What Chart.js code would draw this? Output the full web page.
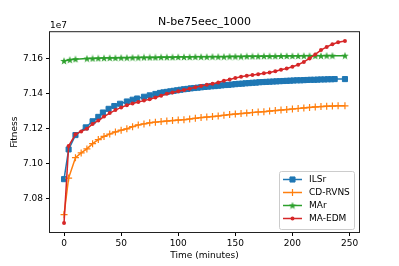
<!DOCTYPE html>
<html>
<head>
<meta charset="utf-8">
<script src="https://cdn.jsdelivr.net/npm/chart.js@4.4.1/dist/chart.umd.min.js"></script>
<style>
  body { margin: 0; background: #fff; }
  #wrap { width: 399px; height: 266px; }
</style>
</head>
<body>
<div id="wrap"><canvas id="fitnessChart" width="399" height="266"></canvas></div>
<script>
// values (fitness in units of 1e7, time in minutes)
const xTicks = [0, 50, 100, 150, 200, 250];
const yTicks = [7.08, 7.10, 7.12, 7.14, 7.16];

const ilsrTime = [0, 4, 10, 19, 25, 30, 34, 39, 44, 49, 55, 60, 64, 70, 75, 80,
  84, 87, 90, 93, 96, 99, 102, 105, 108, 111, 114, 117, 120, 123, 126, 129, 132, 135, 138, 141,
  144, 147, 150, 153, 156, 159, 162, 165, 168, 171, 174, 177, 180, 183, 186, 189, 192, 195, 198,
  201, 204, 207, 210, 213, 216, 219, 222, 225, 228, 231, 234, 237, 246];
const ilsrFit = [7.0912, 7.1082, 7.1164, 7.1208, 7.1243, 7.1268, 7.1293, 7.1314, 7.1330, 7.1343,
  7.1356, 7.1366, 7.1373, 7.1383, 7.1391, 7.1399,
  7.1405, 7.1408, 7.1411, 7.1414, 7.1417, 7.1420, 7.1423, 7.1426, 7.1428, 7.1431, 7.1433, 7.1435,
  7.1437, 7.1439, 7.1441, 7.1443, 7.1444, 7.1446, 7.1448, 7.1450, 7.1451, 7.1453, 7.1455, 7.1457,
  7.1458, 7.1460, 7.1461, 7.1463, 7.1464, 7.1466, 7.1467, 7.1468, 7.1469, 7.1470, 7.1471, 7.1472,
  7.1473, 7.1474, 7.1475, 7.1476, 7.1477, 7.1477, 7.1478, 7.1479, 7.1480, 7.1480, 7.1481, 7.1482,
  7.1482, 7.1483, 7.1483, 7.1484, 7.1484];

const rvnsTime = [0, 4, 10, 15, 20, 25, 30, 35, 40, 45, 50, 55, 60, 65, 70, 75, 80, 85, 90, 95,
  100, 105, 110, 115, 120, 125, 130, 135, 140, 145, 150, 155, 160, 165, 170, 175, 180, 185, 190,
  195, 200, 205, 210, 215, 220, 225, 230, 235, 240, 246];
const rvnsFit = [7.0709, 7.0918, 7.1035, 7.1062, 7.1085, 7.1115, 7.1138, 7.1156, 7.1170, 7.1182,
  7.1192, 7.1200, 7.1212, 7.1222, 7.1228, 7.1234, 7.1238, 7.1241, 7.1244, 7.1247, 7.1250, 7.1252,
  7.1256, 7.1260, 7.1264, 7.1267, 7.1270, 7.1273, 7.1277, 7.1281, 7.1284, 7.1287, 7.1290, 7.1293,
  7.1296, 7.1298, 7.1301, 7.1304, 7.1307, 7.1310, 7.1313, 7.1316, 7.1319, 7.1322, 7.1325, 7.1327,
  7.1329, 7.1330, 7.1331, 7.1331];

const marTime = [0, 5, 10, 20, 25, 30, 35, 40, 45, 50, 55, 60, 65, 70, 75, 80, 85, 90, 95, 100,
  105, 110, 115, 120, 125, 130, 135, 140, 145, 150, 155, 160, 165, 170, 175, 180, 185, 190, 195,
  200, 205, 210, 215, 220, 225, 230, 235, 246];
const marFit = [7.1588, 7.1594, 7.1598, 7.1601, 7.1602, 7.1603, 7.1604, 7.1605, 7.1605, 7.1606,
  7.1606, 7.1607, 7.1607, 7.1608, 7.1608, 7.1608, 7.1609, 7.1609, 7.1609, 7.1610, 7.1610, 7.1610,
  7.1611, 7.1611, 7.1611, 7.1612, 7.1612, 7.1612, 7.1613, 7.1613, 7.1613, 7.1614, 7.1614, 7.1614,
  7.1615, 7.1615, 7.1615, 7.1616, 7.1616, 7.1616, 7.1616, 7.1617, 7.1617, 7.1617, 7.1617, 7.1618,
  7.1618, 7.1618];

const edmTime = [0, 4, 10, 15, 20, 25, 30, 35, 40, 45, 50, 55, 60, 65, 70, 75, 80, 85, 90, 95,
  100, 105, 110, 115, 120, 125, 130, 135, 140, 145, 150, 155, 160, 165, 170, 175, 180, 185, 190,
  195, 200, 205, 210, 215, 220, 225, 230, 235, 240, 246];
const edmFit = [7.0662, 7.1101, 7.1168, 7.1185, 7.1200, 7.1228, 7.1247, 7.1270, 7.1290, 7.1307,
  7.1322, 7.1335, 7.1345, 7.1353, 7.1361, 7.1369, 7.1379, 7.1389, 7.1400, 7.1408, 7.1415, 7.1422,
  7.1429, 7.1437, 7.1444, 7.1451, 7.1457, 7.1465, 7.1474, 7.1482, 7.1490, 7.1497, 7.1503, 7.1508,
  7.1512, 7.1518, 7.1522, 7.1529, 7.1537, 7.1545, 7.1555, 7.1566, 7.1582, 7.1602, 7.1625, 7.1650,
  7.1668, 7.1683, 7.1694, 7.1702];

const FONT = "'DejaVu Sans', sans-serif";

// filled star marker like matplotlib '*'
function makeStar(color) {
  const c = document.createElement('canvas');
  c.width = 8; c.height = 8;
  const g = c.getContext('2d');
  g.fillStyle = color;
  g.beginPath();
  for (let i = 0; i < 10; i++) {
    const r = i % 2 === 0 ? 4 : 1.6;
    const a = -Math.PI / 2 + i * Math.PI / 5;
    const px = 4 + r * Math.cos(a), py = 4.3 + r * Math.sin(a);
    if (i === 0) g.moveTo(px, py); else g.lineTo(px, py);
  }
  g.closePath();
  g.fill();
  return c;
}

const toPoints = (xs, ys) => xs.map((t, i) => ({ x: t, y: ys[i] * 1e7 }));

// frame on all four sides + the "1e7" offset text
const framePlugin = {
  id: 'frame',
  afterDatasetsDraw(chart) {
    const { ctx, chartArea: a } = chart;
    ctx.save();
    ctx.strokeStyle = '#222';
    ctx.lineWidth = 1;
    ctx.strokeRect(a.left - 0.5, a.top - 0.5, a.right - a.left + 1, a.bottom - a.top + 1);
    ctx.fillStyle = '#000';
    ctx.font = '9px ' + FONT;
    ctx.textAlign = 'left';
    ctx.textBaseline = 'bottom';
    ctx.fillText('1e7', a.left, a.top - 2);
    ctx.restore();
  }
};

// legend box in the lower right corner, like matplotlib's
const legendPlugin = {
  id: 'boxLegend',
  afterDraw(chart) {
    const { ctx } = chart;
    const bx = 279, by = 171, bw = 75, bh = 58;
    ctx.save();
    ctx.fillStyle = 'rgba(255,255,255,0.8)';
    ctx.strokeStyle = '#ccc';
    ctx.lineWidth = 1;
    ctx.beginPath();
    ctx.roundRect(bx + 0.5, by + 0.5, bw, bh, 2);
    ctx.fill();
    ctx.stroke();
    chart.data.datasets.forEach((ds, i) => {
      const y = by + 8.5 + i * 13;
      ctx.strokeStyle = ds.borderColor;
      ctx.lineWidth = ds.borderWidth;
      ctx.beginPath();
      ctx.moveTo(bx + 4, y);
      ctx.lineTo(bx + 23, y);
      ctx.stroke();
      const mx = bx + 13.5;
      if (ds.pointStyle instanceof HTMLCanvasElement) {
        ctx.drawImage(ds.pointStyle, mx - ds.pointStyle.width / 2, y - ds.pointStyle.height / 2);
      } else {
        ctx.fillStyle = ds.pointBackgroundColor;
        ctx.strokeStyle = ds.pointBorderColor;
        ctx.lineWidth = ds.pointBorderWidth;
        Chart.helpers.drawPoint(ctx, { pointStyle: ds.pointStyle, radius: ds.pointRadius, rotation: 0, borderWidth: ds.pointBorderWidth }, mx, y);
      }
      ctx.fillStyle = '#000';
      ctx.font = '9px ' + FONT;
      ctx.textAlign = 'left';
      ctx.textBaseline = 'middle';
      ctx.fillText(ds.label, bx + 30, y + 0.5);
    });
    ctx.restore();
  }
};

new Chart(document.getElementById('fitnessChart'), {
  type: 'line',
  data: {
    datasets: [
      {
        label: 'ILSr',
        data: toPoints(ilsrTime, ilsrFit),
        borderColor: '#1f77b4',
        borderWidth: 1.5,
        pointStyle: 'rect',
        pointRadius: 3.6,
        pointBackgroundColor: '#1f77b4',
        pointBorderColor: '#1f77b4',
        pointBorderWidth: 1,
        order: 4,
      },
      {
        label: 'CD-RVNS',
        data: toPoints(rvnsTime, rvnsFit),
        borderColor: '#ff7f0e',
        borderWidth: 1.5,
        pointStyle: 'cross',
        pointRadius: 3.5,
        pointBackgroundColor: '#ff7f0e',
        pointBorderColor: '#ff7f0e',
        pointBorderWidth: 1.2,
        order: 3,
      },
      {
        label: 'MAr',
        data: toPoints(marTime, marFit),
        borderColor: '#2ca02c',
        borderWidth: 1.5,
        pointStyle: makeStar('#2ca02c'),
        pointRadius: 4,
        pointBackgroundColor: '#2ca02c',
        pointBorderColor: '#2ca02c',
        pointBorderWidth: 0,
        order: 2,
      },
      {
        label: 'MA-EDM',
        data: toPoints(edmTime, edmFit),
        borderColor: '#d62728',
        borderWidth: 1.5,
        pointStyle: 'circle',
        pointRadius: 2,
        pointBackgroundColor: '#d62728',
        pointBorderColor: '#d62728',
        pointBorderWidth: 0,
        order: 1,
      },
    ],
  },
  options: {
    responsive: false,
    animation: false,
    devicePixelRatio: 1,
    layout: { padding: { left: 0, right: 40, top: 0, bottom: 0 } },
    elements: { line: { tension: 0 } },
    plugins: {
      legend: { display: false },
      tooltip: { enabled: false },
      title: {
        display: true,
        fullSize: false,
        text: 'N-be75eec_1000',
        color: '#000',
        font: { family: FONT, size: 11, weight: 'normal' },
        padding: { top: 16, bottom: 3 },
      },
    },
    scales: {
      x: {
        type: 'linear',
        min: -12.3,
        max: 258.3,
        afterFit(scale) { scale.height = 34; },
        afterBuildTicks(scale) { scale.ticks = xTicks.map(v => ({ value: v })); },
        grid: { drawOnChartArea: false, drawTicks: true, tickLength: 4, color: '#000' },
        border: { display: false },
        ticks: { color: '#000', padding: 2, maxRotation: 0, font: { family: FONT, size: 9 } },
        title: {
          display: true,
          text: 'Time (minutes)',
          color: '#000',
          font: { family: FONT, size: 9 },
          padding: { top: 0, bottom: 5 },
        },
      },
      y: {
        type: 'linear',
        min: 7.061e7,
        max: 7.1752e7,
        afterFit(scale) { scale.width = 50; },
        afterBuildTicks(scale) { scale.ticks = yTicks.map(v => ({ value: v * 1e7 })); },
        grid: { drawOnChartArea: false, drawTicks: true, tickLength: 4, color: '#000' },
        border: { display: false },
        ticks: {
          color: '#000',
          padding: 3,
          font: { family: FONT, size: 9 },
          callback: v => (v / 1e7).toFixed(2),
        },
        title: {
          display: true,
          text: 'Fitness',
          color: '#000',
          font: { family: FONT, size: 9 },
          padding: { top: 9, bottom: 0 },
        },
      },
    },
  },
  plugins: [framePlugin, legendPlugin],
});
</script>
</body>
</html>
